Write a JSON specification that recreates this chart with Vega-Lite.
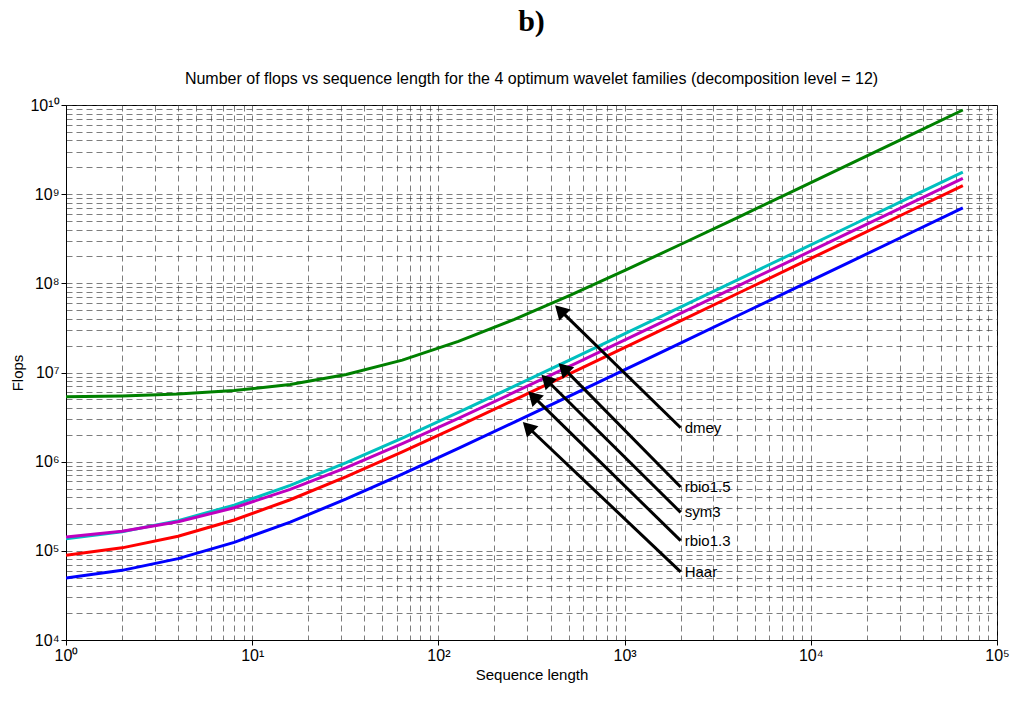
{
  "$schema": "https://vega.github.io/schema/vega-lite/v6.json",
  "autosize": "none",
  "width": 931,
  "height": 535,
  "padding": {"left": 66, "top": 105, "right": 27, "bottom": 62},
  "background": "white",
  "config": {"view": {"stroke": "black", "strokeWidth": 1}, "font": "Liberation Sans"},
  "title": {
    "text": "b)", "font": "Liberation Serif", "fontSize": 30, "fontWeight": "bold",
    "subtitle": "Number of flops vs sequence length for the 4 optimum wavelet families (decomposition level = 12)",
    "subtitleFont": "Liberation Sans", "subtitleFontSize": 16, "subtitlePadding": 34,
    "anchor": "middle", "offset": 10, "color": "black", "subtitleColor": "black"
  },
  "datasets": {
    "lines": [
      {"N":1,"f":5334000,"s":"dmey"},{"N":2,"f":5468000,"s":"dmey"},{"N":4,"f":5736000,"s":"dmey"},{"N":8,"f":6272000,"s":"dmey"},{"N":16,"f":7344000,"s":"dmey"},{"N":32,"f":9488000,"s":"dmey"},{"N":64,"f":13776000,"s":"dmey"},{"N":128,"f":22352000,"s":"dmey"},{"N":256,"f":39504000,"s":"dmey"},{"N":512,"f":73808000,"s":"dmey"},{"N":1024,"f":142416000,"s":"dmey"},{"N":2048,"f":279632000,"s":"dmey"},{"N":4096,"f":554064000,"s":"dmey"},{"N":8192,"f":1102928000,"s":"dmey"},{"N":16384,"f":2200656000,"s":"dmey"},{"N":32768,"f":4396112000,"s":"dmey"},{"N":65536,"f":8787024000,"s":"dmey"},
      {"N":1,"f":137000,"s":"rbio1.5"},{"N":2,"f":164000,"s":"rbio1.5"},{"N":4,"f":218000,"s":"rbio1.5"},{"N":8,"f":326000,"s":"rbio1.5"},{"N":16,"f":542000,"s":"rbio1.5"},{"N":32,"f":974000,"s":"rbio1.5"},{"N":64,"f":1838000,"s":"rbio1.5"},{"N":128,"f":3566000,"s":"rbio1.5"},{"N":256,"f":7022000,"s":"rbio1.5"},{"N":512,"f":13934000,"s":"rbio1.5"},{"N":1024,"f":27758000,"s":"rbio1.5"},{"N":2048,"f":55406000,"s":"rbio1.5"},{"N":4096,"f":110702000,"s":"rbio1.5"},{"N":8192,"f":221294000,"s":"rbio1.5"},{"N":16384,"f":442478000,"s":"rbio1.5"},{"N":32768,"f":884846000,"s":"rbio1.5"},{"N":65536,"f":1769582000,"s":"rbio1.5"},
      {"N":1,"f":143000,"s":"sym3"},{"N":2,"f":166000,"s":"sym3"},{"N":4,"f":212000,"s":"sym3"},{"N":8,"f":304000,"s":"sym3"},{"N":16,"f":488000,"s":"sym3"},{"N":32,"f":856000,"s":"sym3"},{"N":64,"f":1592000,"s":"sym3"},{"N":128,"f":3064000,"s":"sym3"},{"N":256,"f":6008000,"s":"sym3"},{"N":512,"f":11896000,"s":"sym3"},{"N":1024,"f":23672000,"s":"sym3"},{"N":2048,"f":47224000,"s":"sym3"},{"N":4096,"f":94328000,"s":"sym3"},{"N":8192,"f":188536000,"s":"sym3"},{"N":16384,"f":376952000,"s":"sym3"},{"N":32768,"f":753784000,"s":"sym3"},{"N":65536,"f":1507448000,"s":"sym3"},
      {"N":1,"f":89000,"s":"rbio1.3"},{"N":2,"f":108000,"s":"rbio1.3"},{"N":4,"f":146000,"s":"rbio1.3"},{"N":8,"f":222000,"s":"rbio1.3"},{"N":16,"f":374000,"s":"rbio1.3"},{"N":32,"f":678000,"s":"rbio1.3"},{"N":64,"f":1286000,"s":"rbio1.3"},{"N":128,"f":2502000,"s":"rbio1.3"},{"N":256,"f":4934000,"s":"rbio1.3"},{"N":512,"f":9798000,"s":"rbio1.3"},{"N":1024,"f":19526000,"s":"rbio1.3"},{"N":2048,"f":38982000,"s":"rbio1.3"},{"N":4096,"f":77894000,"s":"rbio1.3"},{"N":8192,"f":155718000,"s":"rbio1.3"},{"N":16384,"f":311366000,"s":"rbio1.3"},{"N":32768,"f":622662000,"s":"rbio1.3"},{"N":65536,"f":1245254000,"s":"rbio1.3"},
      {"N":1,"f":49700,"s":"Haar"},{"N":2,"f":60400,"s":"Haar"},{"N":4,"f":81800,"s":"Haar"},{"N":8,"f":124600,"s":"Haar"},{"N":16,"f":210200,"s":"Haar"},{"N":32,"f":381400,"s":"Haar"},{"N":64,"f":723800,"s":"Haar"},{"N":128,"f":1408600,"s":"Haar"},{"N":256,"f":2778200,"s":"Haar"},{"N":512,"f":5517400,"s":"Haar"},{"N":1024,"f":10995800,"s":"Haar"},{"N":2048,"f":21951600,"s":"Haar"},{"N":4096,"f":43863200,"s":"Haar"},{"N":8192,"f":87686400,"s":"Haar"},{"N":16384,"f":175332800,"s":"Haar"},{"N":32768,"f":350625600,"s":"Haar"},{"N":65536,"f":701251200,"s":"Haar"}
    ],
    "arrows": [
      {"s":"dmey","x0":2000,"y0":2400000,"x1":450,"y1":50000000},
      {"s":"rbio1.5","x0":2000,"y0":520000,"x1":470,"y1":11200000},
      {"s":"sym3","x0":2000,"y0":270000,"x1":380,"y1":8300000},
      {"s":"rbio1.3","x0":2000,"y0":130000,"x1":323,"y1":5400000},
      {"s":"Haar","x0":2000,"y0":58000,"x1":302,"y1":2450000}
    ]
  },
  "resolve": {"axis": {"x": "independent", "y": "independent"}},
  "layer": [
    {
      "data": {"name": "lines"},
      "mark": {"type": "line", "strokeWidth": 3, "clip": true},
      "encoding": {
        "x": {"field": "N", "type": "quantitative", "scale": {"type": "log", "domain": [1, 100000]},
          "axis": {"orient": "bottom", "labels": false, "ticks": false, "domain": false, "title": null,
            "values": [1,2,3,4,5,6,7,8,9,10,20,30,40,50,60,70,80,90,100,200,300,400,500,600,700,800,900,1000,2000,3000,4000,5000,6000,7000,8000,9000,10000,20000,30000,40000,50000,60000,70000,80000,90000,100000],
            "grid": true, "gridColor": "#333", "gridDash": [6, 4], "gridWidth": 0.8, "gridOpacity": 0.8}},
        "y": {"field": "f", "type": "quantitative", "scale": {"type": "log", "domain": [10000, 10000000000]},
          "axis": {"orient": "left", "labels": false, "ticks": false, "domain": false, "title": null,
            "values": [10000,20000,30000,40000,50000,60000,70000,80000,90000,100000,200000,300000,400000,500000,600000,700000,800000,900000,1000000,2000000,3000000,4000000,5000000,6000000,7000000,8000000,9000000,10000000,20000000,30000000,40000000,50000000,60000000,70000000,80000000,90000000,100000000,200000000,300000000,400000000,500000000,600000000,700000000,800000000,900000000,1000000000,2000000000,3000000000,4000000000,5000000000,6000000000,7000000000,8000000000,9000000000,10000000000],
            "grid": true, "gridColor": "#333", "gridDash": [6, 4], "gridWidth": 0.8, "gridOpacity": 0.8}},
        "detail": {"field": "s"},
        "color": {"field": "s", "type": "nominal", "legend": null,
          "scale": {"domain": ["dmey","rbio1.5","sym3","rbio1.3","Haar"], "range": ["#008000","#00BFBF","#BF00BF","#FF0000","#0000FF"]}}
      }
    },
    {
      "data": {"name": "arrows"},
      "mark": {"type": "rule", "strokeWidth": 3, "color": "black"},
      "encoding": {
        "x": {"field": "x0", "type": "quantitative", "scale": {"type": "log", "domain": [1, 100000]},
          "axis": {"orient": "bottom", "values": [1,10,100,1000,10000,100000], "grid": false, "title": "Sequence length",
            "titleFontSize": 15, "titleFontWeight": "normal", "titleColor": "black", "labelFontSize": 16, "labelColor": "black",
            "labelExpr": "'10' + ['⁰','¹','²','³','⁴','⁵'][round(log(datum.value)/LN10)]", "tickColor": "black", "domainColor": "black", "labelFlush": false}},
        "y": {"field": "y0", "type": "quantitative", "scale": {"type": "log", "domain": [10000, 10000000000]},
          "axis": {"orient": "left", "values": [10000,100000,1000000,10000000,100000000,1000000000,10000000000], "grid": false, "title": "Flops",
            "titleFontSize": 15, "titleFontWeight": "normal", "titleColor": "black", "labelFontSize": 16, "labelColor": "black",
            "labelExpr": "'10' + ['⁰','¹','²','³','⁴','⁵','⁶','⁷','⁸','⁹','¹⁰'][round(log(datum.value)/LN10)]", "tickColor": "black", "domainColor": "black"}},
        "x2": {"field": "x1"},
        "y2": {"field": "y1"}
      }
    },
    {
      "data": {"name": "arrows"},
      "mark": {"type": "point", "shape": "triangle-up", "filled": true, "size": 260, "color": "black", "opacity": 1, "angle": 315},
      "encoding": {
        "x": {"field": "x1", "type": "quantitative", "scale": {"type": "log", "domain": [1, 100000]}, "axis": null},
        "y": {"field": "y1", "type": "quantitative", "scale": {"type": "log", "domain": [10000, 10000000000]}, "axis": null}
      }
    },
    {
      "data": {"name": "arrows"},
      "mark": {"type": "text", "align": "left", "dx": 4, "fontSize": 15, "color": "black"},
      "encoding": {
        "x": {"field": "x0", "type": "quantitative", "scale": {"type": "log", "domain": [1, 100000]}, "axis": null},
        "y": {"field": "y0", "type": "quantitative", "scale": {"type": "log", "domain": [10000, 10000000000]}, "axis": null},
        "text": {"field": "s"}
      }
    }
  ]
}
